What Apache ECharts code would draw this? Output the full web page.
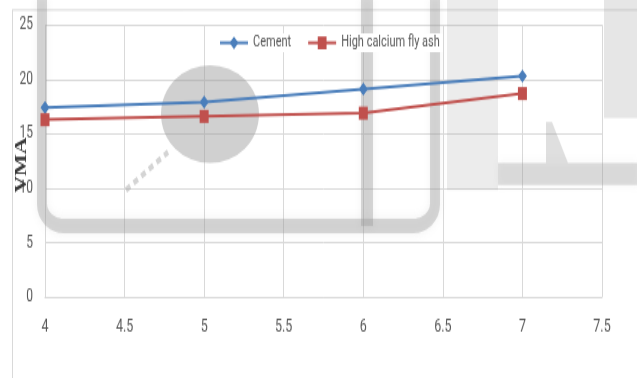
<!DOCTYPE html>
<html>
<head>
<meta charset="utf-8">
<script src="https://cdn.jsdelivr.net/npm/echarts@6/dist/echarts.min.js"></script>
<style>
  html, body { margin: 0; padding: 0; background: #fff; overflow: hidden; }
  #wrap { width: 637px; height: 378px; overflow: hidden; }
  /* the chart is laid out in a short box and stretched vertically */
  #chart { width: 637px; height: 261px; transform-origin: 0 0; transform: scaleY(1.448276); }
</style>
</head>
<body>
<div id="wrap"><div id="chart"></div></div>
<script>
// Binder content (%) on the x axis, VMA (%) on the y axis
const binderContent = [4, 5, 6, 7];
const cementVMA = [17.4, 17.9, 19.1, 20.3];
const flyAshVMA = [16.3, 16.6, 16.9, 18.7];
const seriesNames = ['Cement', 'High calcium fly ash'];
const yAxisTitle = 'VMA';

const K = 378 / 261;            // vertical stretch of the drawing box
const sy = v => v / K;          // page pixels -> box pixels (vertical)

const labelFont = "Roboto, 'Liberation Sans', sans-serif";
const gridGray = '#d9d9d9';
const textGray = '#595959';

const pairs = (xs, ys) => xs.map((x, i) => [x, ys[i]]);

// quarter-circle corner points for the rounded backdrop frame
function corner(cx, cy, r, a0, a1) {
  const pts = [];
  for (let k = 0; k <= 8; k++) {
    const a = a0 + (a1 - a0) * k / 8;
    pts.push([cx + r * Math.cos(a), sy(cy + r * Math.sin(a))]);
  }
  return pts;
}
const framePoints = [[42, 0]]
  .concat(corner(64, 204, 22, Math.PI, Math.PI / 2))
  .concat(corner(413, 204, 22, Math.PI / 2, 0))
  .concat([[435, 0]]);

const chart = echarts.init(document.getElementById('chart'), null, { renderer: 'canvas' });

// soft grey backdrop shapes
const haze = 'rgba(150,150,150,0.36)';
const hazeSoft = 'rgba(150,150,150,0.3)';

chart.setOption({
  animation: false,
  backgroundColor: '#fff',
  grid: { left: 45, right: 35, top: sy(25), bottom: sy(81), containLabel: false },
  legend: {
    top: sy(45) - 8,
    left: 216,
    itemWidth: 28,
    itemHeight: 11,
    itemGap: 16,
    backgroundColor: '#fff',
    padding: [1, 3],
    textStyle: { color: textGray, fontFamily: labelFont, fontSize: 11 },
    data: seriesNames
  },
  xAxis: {
    type: 'value',
    min: 4,
    max: 7.5,
    interval: 0.5,
    axisLine: { show: true, lineStyle: { color: gridGray, width: 1 } },
    axisTick: { show: false },
    splitLine: { show: true, lineStyle: { color: gridGray, width: 1 } },
    axisLabel: { color: textGray, fontFamily: labelFont, fontSize: 12.5, margin: 14 }
  },
  yAxis: {
    type: 'value',
    min: 0,
    max: 25,
    interval: 5,
    axisLine: { show: false },
    axisTick: { show: false },
    splitLine: { show: true, lineStyle: { color: gridGray, width: 1 } },
    axisLabel: { color: textGray, fontFamily: labelFont, fontSize: 12, margin: 12 }
  },
  graphic: [
    // outer chart frame
    { type: 'line', shape: { x1: 12, y1: sy(10), x2: 640, y2: sy(10) }, style: { stroke: '#d9d9d9', lineWidth: 1 }, z: 0 },
    { type: 'line', shape: { x1: 12.5, y1: sy(10), x2: 12.5, y2: 270 }, style: { stroke: '#d9d9d9', lineWidth: 1 }, z: 0 },
    // y axis title
    {
      type: 'text', x: 22, y: sy(165), rotation: Math.PI / 2, z: 3,
      style: { text: yAxisTitle, fill: '#3a3a3a', font: "bold 16px 'Liberation Serif', serif", align: 'center', verticalAlign: 'middle' }
    },
    // backdrop: round spot and dotted stroke
    { type: 'circle', x: 210, y: sy(114), scaleY: 1 / K, shape: { cx: 0, cy: 0, r: 49 }, style: { fill: 'rgba(150,150,150,0.45)' }, z: 1 },
    { type: 'line', shape: { x1: 126, y1: sy(190), x2: 168, y2: sy(152) }, style: { stroke: 'rgba(160,160,160,0.45)', lineWidth: 4, lineDash: [5, 4] }, z: 1 },
    // backdrop: U shaped frame
    {
      type: 'polyline', z: 1,
      shape: { points: framePoints },
      style: { fill: null, stroke: haze, lineWidth: 10, lineJoin: 'round', shadowBlur: 6, shadowColor: 'rgba(150,150,150,0.35)' }
    },
    { type: 'line', z: 1, shape: { x1: 367, y1: 0, x2: 367, y2: sy(226) }, style: { stroke: haze, lineWidth: 12, shadowBlur: 6, shadowColor: 'rgba(150,150,150,0.35)' } },
    // backdrop: right blocks
    { type: 'rect', z: 1, shape: { x: 447, y: 0, width: 51, height: sy(190) }, style: { fill: 'rgba(160,160,160,0.2)' } },
    { type: 'rect', z: 1, shape: { x: 498, y: sy(163), width: 140, height: sy(22) }, style: { fill: hazeSoft, shadowBlur: 6, shadowColor: 'rgba(160,160,160,0.3)' } },
    { type: 'polygon', z: 1, shape: { points: [[546, sy(122)], [552, sy(122)], [568, sy(163)], [546, sy(163)]] }, style: { fill: hazeSoft } },
    { type: 'rect', z: 1, shape: { x: 604, y: 0, width: 34, height: sy(118) }, style: { fill: 'rgba(160,160,160,0.26)' } }
  ],
  series: [
    {
      name: seriesNames[0],
      type: 'line',
      data: pairs(binderContent, cementVMA),
      symbol: 'diamond',
      symbolSize: [9, 9],
      color: '#4a7ebb',
      lineStyle: { color: '#4a7ebb', width: 2 },
      itemStyle: { color: '#4a7ebb' },
      z: 3
    },
    {
      name: seriesNames[1],
      type: 'line',
      data: pairs(binderContent, flyAshVMA),
      symbol: 'rect',
      symbolSize: [9, 9],
      color: '#c0504d',
      lineStyle: { color: '#c0504d', width: 2 },
      itemStyle: { color: '#c0504d' },
      z: 3
    }
  ]
});
</script>
</body>
</html>
